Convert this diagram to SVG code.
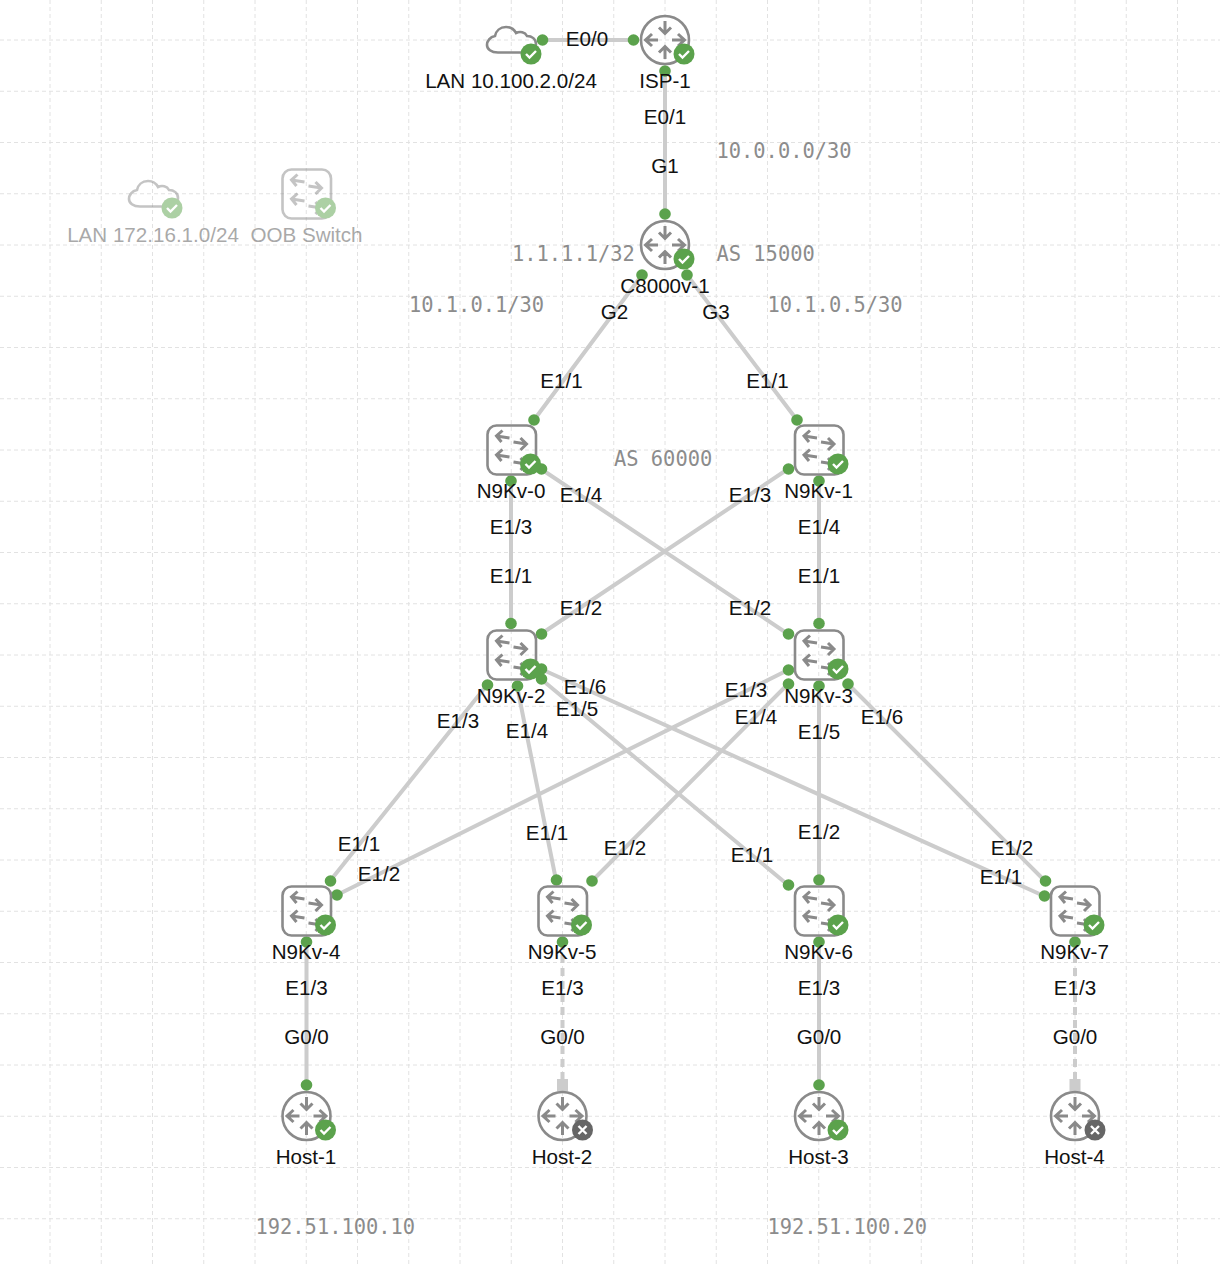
<svg xmlns="http://www.w3.org/2000/svg" width="1220" height="1266" viewBox="0 0 1220 1266">
<style>
text{font-family:"Liberation Sans",Arial,sans-serif;font-size:20.6px;fill:#111;text-anchor:middle}
.m{font-family:"DejaVu Sans Mono","Liberation Mono",monospace;font-size:20.4px;fill:#8c8c8c;text-anchor:start}
.grid{fill:none;stroke:#e2e2e2;stroke-width:1;stroke-dasharray:4 3}
.e{fill:none;stroke:#cccccc;stroke-width:4}
.d{stroke-dasharray:8 5}
.p{fill:#5ba24c}
.i{fill:none;stroke:#8a8a8a;stroke-width:2.6}
.a{fill:none;stroke:#8a8a8a;stroke-width:3}
.k{fill:none;stroke:#fff;stroke-width:2.4}
.faded{opacity:.5}
.faded text{fill:#555}
</style>
<defs>
<g id="router"><circle class="i" r="24"/><path class="a" d="M0 -19V-7M-6 -12.5L0 -6.5L6 -12.5M0 19V7M-6 12.5L0 6.5L6 12.5M-7 0H-19M-13 -6L-19.5 0L-13 6M7 0H19M13 -6L19.5 0L13 6"/></g>
<g id="switch"><rect class="i" x="-24" y="-24.5" width="48.5" height="49" rx="9"/><path class="a" d="M-2 -12L-15 -14M-9 -19.5L-15 -14L-10 -8M2 -8L15 -6M9 -12L15 -6L9 0M-2 7L-15 5M-9 -0.5L-15 5L-10 11M2 12L15 14M9 8L15 14L9 20"/></g>
<g id="cloud"><path class="i" d="M-13 12.5H13C20 12.5 25 9 25 4C25 -1 21 -4 16 -4C14 -8 9 -9 5 -7C3 -11 -1 -13 -5 -13C-11 -13 -15 -9 -16 -4C-21 -3 -24 1 -24 5C-24 9 -20 12.5 -13 12.5Z"/></g>
<g id="ok"><circle r="10.5" fill="#5ba24c"/><path class="k" d="M-5 0L-1.5 3.5L5 -3"/></g>
<g id="off"><circle r="10.5" fill="#666"/><path class="k" d="M-4 -4L4 4M4 -4L-4 4"/></g>
</defs>
<rect width="1220" height="1266" fill="#fff"/>
<path class="grid" d="M50 0V1266M101.25 0V1266M152.5 0V1266M203.75 0V1266M255 0V1266M306.25 0V1266M357.5 0V1266M408.75 0V1266M460 0V1266M511.25 0V1266M562.5 0V1266M613.75 0V1266M665 0V1266M716.25 0V1266M767.5 0V1266M818.75 0V1266M870 0V1266M921.25 0V1266M972.5 0V1266M1023.75 0V1266M1075 0V1266M1126.25 0V1266M1177.5 0V1266M0 40H1220M0 91.25H1220M0 142.5H1220M0 193.75H1220M0 245H1220M0 296.25H1220M0 347.5H1220M0 398.75H1220M0 450H1220M0 501.25H1220M0 552.5H1220M0 603.75H1220M0 655H1220M0 706.25H1220M0 757.5H1220M0 808.75H1220M0 860H1220M0 911.25H1220M0 962.5H1220M0 1013.75H1220M0 1065H1220M0 1116.25H1220M0 1167.5H1220M0 1218.75H1220"/>
<g id="connectors">
<path class="e" d="M542 40H633M665 71V214M642 275L534 420M687 275L797 420M511 481V624M819 481V624M541 469L788 634M788 469L541 634M487 685L330 881M517 686L556 880M541 679L788 885M541 669L1044 896M788 670L337 895M788 684L592 881M819 686V880M848 684L1045 881M306.5 942V1085M819 942V1085"/>
<path class="e d" d="M562.5 942V1080M1075 942V1080"/>
<rect x="557" y="1079" width="11" height="12" fill="#ccc"/>
<rect x="1069.5" y="1079" width="11" height="12" fill="#ccc"/>
<g class="p">
<circle cx="542.5" cy="40" r="5.8"/><circle cx="633.5" cy="40" r="5.8"/><circle cx="665" cy="71" r="5.8"/><circle cx="665" cy="214" r="5.8"/><circle cx="642" cy="275" r="5.8"/><circle cx="534" cy="420" r="5.8"/><circle cx="687" cy="275" r="5.8"/><circle cx="797" cy="420" r="5.8"/><circle cx="511" cy="481" r="5.8"/><circle cx="511" cy="623.5" r="5.8"/><circle cx="819" cy="481" r="5.8"/><circle cx="819" cy="623.5" r="5.8"/><circle cx="541.5" cy="469" r="5.8"/><circle cx="788.5" cy="634" r="5.8"/><circle cx="788.5" cy="469" r="5.8"/><circle cx="541.5" cy="634" r="5.8"/><circle cx="487.5" cy="685" r="5.8"/><circle cx="330.5" cy="881" r="5.8"/><circle cx="517.5" cy="686" r="5.8"/><circle cx="556.5" cy="880" r="5.8"/><circle cx="541.5" cy="679" r="5.8"/><circle cx="788.5" cy="885" r="5.8"/><circle cx="541.5" cy="669" r="5.8"/><circle cx="1044.5" cy="896" r="5.8"/><circle cx="788.5" cy="670" r="5.8"/><circle cx="337" cy="895" r="5.8"/><circle cx="788.5" cy="684" r="5.8"/><circle cx="592" cy="881" r="5.8"/><circle cx="819" cy="686" r="5.8"/><circle cx="819" cy="880" r="5.8"/><circle cx="848" cy="684" r="5.8"/><circle cx="1045.5" cy="881" r="5.8"/><circle cx="306.5" cy="942" r="5.8"/><circle cx="306.5" cy="1085" r="5.8"/><circle cx="562.5" cy="942" r="5.8"/><circle cx="819" cy="942" r="5.8"/><circle cx="819" cy="1085" r="5.8"/><circle cx="1075" cy="942" r="5.8"/>
</g>
</g>
<g id="connector-labels">
<text x="587" y="46">E0/0</text><text x="665" y="124">E0/1</text><text x="665" y="173">G1</text><text x="614.5" y="319">G2</text><text x="716" y="319">G3</text><text x="561.5" y="388">E1/1</text><text x="767.5" y="388">E1/1</text><text x="581" y="502">E1/4</text><text x="511" y="534">E1/3</text><text x="511" y="583">E1/1</text><text x="750" y="502">E1/3</text><text x="819" y="534">E1/4</text><text x="819" y="583">E1/1</text><text x="581" y="615">E1/2</text><text x="750" y="615">E1/2</text><text x="585" y="694">E1/6</text><text x="577" y="716">E1/5</text><text x="458" y="728">E1/3</text><text x="527" y="738">E1/4</text><text x="746" y="697">E1/3</text><text x="756" y="724">E1/4</text><text x="819" y="739">E1/5</text><text x="882" y="724">E1/6</text><text x="359" y="851">E1/1</text><text x="379" y="881">E1/2</text><text x="547" y="840">E1/1</text><text x="625" y="855">E1/2</text><text x="752" y="862">E1/1</text><text x="819" y="839">E1/2</text><text x="1012" y="855">E1/2</text><text x="1001" y="884">E1/1</text><text x="306.5" y="995">E1/3</text><text x="306.5" y="1044">G0/0</text><text x="562.5" y="995">E1/3</text><text x="562.5" y="1044">G0/0</text><text x="819" y="995">E1/3</text><text x="819" y="1044">G0/0</text><text x="1075" y="995">E1/3</text><text x="1075" y="1044">G0/0</text>
</g>
<g id="annotations">
<text class="m" x="716.5" y="158">10.0.0.0/30</text><text class="m" x="512" y="261">1.1.1.1/32</text><text class="m" x="716.5" y="261">AS 15000</text><text class="m" x="409" y="312">10.1.0.1/30</text><text class="m" x="767.5" y="312">10.1.0.5/30</text><text class="m" x="614" y="466">AS 60000</text><text class="m" x="255.5" y="1234">192.51.100.10</text><text class="m" x="767.5" y="1234">192.51.100.20</text>
</g>
<g id="lan-10" transform="translate(511 40)"><use href="#cloud"/><use href="#ok" x="20" y="14"/><text y="48">LAN 10.100.2.0/24</text></g>
<g id="isp-1" transform="translate(665 40)"><use href="#router"/><use href="#ok" x="19" y="14"/><text y="48">ISP-1</text></g>
<g id="c8000v-1" transform="translate(665 245)"><use href="#router"/><use href="#ok" x="19" y="14"/><text y="48">C8000v-1</text></g>
<g id="lan-172" class="faded" transform="translate(153 194)"><use href="#cloud"/><use href="#ok" x="19" y="14"/><text y="48">LAN 172.16.1.0/24</text></g>
<g id="oob" class="faded" transform="translate(306.5 194)"><use href="#switch"/><use href="#ok" x="19" y="14"/><text y="48">OOB Switch</text></g>
<g id="n9kv-0" transform="translate(511.5 450)"><use href="#switch"/><use href="#ok" x="19" y="14"/><text x="-0.5" y="48">N9Kv-0</text></g>
<g id="n9kv-1" transform="translate(819 450)"><use href="#switch"/><use href="#ok" x="19" y="14"/><text x="-0.5" y="48">N9Kv-1</text></g>
<g id="n9kv-2" transform="translate(511.5 655)"><use href="#switch"/><use href="#ok" x="19" y="14"/><text x="-0.5" y="48">N9Kv-2</text></g>
<g id="n9kv-3" transform="translate(819 655)"><use href="#switch"/><use href="#ok" x="19" y="14"/><text x="-0.5" y="48">N9Kv-3</text></g>
<g id="n9kv-4" transform="translate(306.5 911)"><use href="#switch"/><use href="#ok" x="19" y="14"/><text x="-0.5" y="48">N9Kv-4</text></g>
<g id="n9kv-5" transform="translate(562.5 911)"><use href="#switch"/><use href="#ok" x="19" y="14"/><text x="-0.5" y="48">N9Kv-5</text></g>
<g id="n9kv-6" transform="translate(819 911)"><use href="#switch"/><use href="#ok" x="19" y="14"/><text x="-0.5" y="48">N9Kv-6</text></g>
<g id="n9kv-7" transform="translate(1075 911)"><use href="#switch"/><use href="#ok" x="19" y="14"/><text x="-0.5" y="48">N9Kv-7</text></g>
<g id="host-1" transform="translate(306.5 1116)"><use href="#router"/><use href="#ok" x="19" y="14"/><text x="-0.5" y="48">Host-1</text></g>
<g id="host-2" transform="translate(562.5 1116)"><use href="#router"/><use href="#off" x="20" y="14"/><text x="-0.5" y="48">Host-2</text></g>
<g id="host-3" transform="translate(819 1116)"><use href="#router"/><use href="#ok" x="19" y="14"/><text x="-0.5" y="48">Host-3</text></g>
<g id="host-4" transform="translate(1075 1116)"><use href="#router"/><use href="#off" x="20" y="14"/><text x="-0.5" y="48">Host-4</text></g>
</svg>
